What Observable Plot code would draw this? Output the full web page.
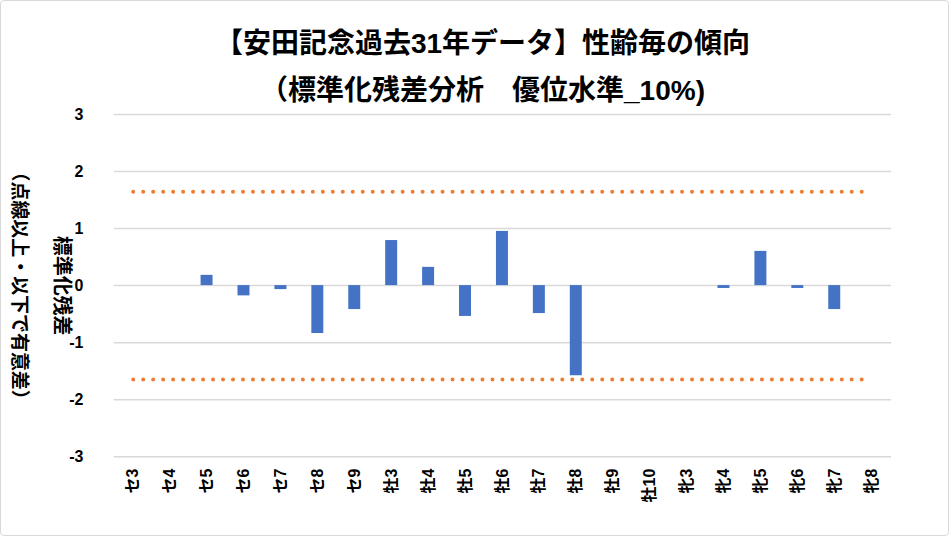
<!DOCTYPE html>
<html><head><meta charset="utf-8">
<script src="https://cdn.jsdelivr.net/npm/d3@7"></script>
<script src="https://cdn.jsdelivr.net/npm/@observablehq/plot@0.6"></script>
<style>
html,body{margin:0;padding:0;background:#fff;}
#wrap{position:relative;width:949px;height:536px;box-sizing:border-box;border:1px solid #d9d9d9;border-radius:4px;overflow:hidden;font-family:"Liberation Sans","Noto Sans CJK JP",sans-serif;}
#t1,#t2{position:absolute;left:16px;right:0;text-align:center;font-weight:bold;color:#000;font-family:"Liberation Sans","Noto Sans CJK JP",sans-serif;white-space:pre;}
#t1{top:23px;font-size:28px;line-height:40px;}
#t2{top:70px;font-size:28px;line-height:40px;}
#chart{position:absolute;left:0;top:99px;}
</style></head>
<body><div id="wrap"><div id="t1"></div><div id="t2"></div><div id="chart"></div></div>
<script>
const title1 = "【安田記念過去31年データ】性齢毎の傾向";
const title2 = "（標準化残差分析　優位水準_10%)";
const yLabel1 = "標準化残差";
const yLabel2 = "（点線以上・以下で有意差）";
const categories = ["セ3","セ4","セ5","セ6","セ7","セ8","セ9","牡3","牡4","牡5","牡6","牡7","牡8","牡9","牡10","牝3","牝4","牝5","牝6","牝7","牝8"];
const residuals = [0,0,0.18,-0.18,-0.07,-0.84,-0.42,0.79,0.32,-0.54,0.95,-0.49,-1.58,0,0,0,-0.05,0.6,-0.05,-0.42,0];
const threshold = 1.645;
const yTicks = [-3,-2,-1,0,1,2,3];

document.getElementById("t1").textContent = title1;
document.getElementById("t2").textContent = title2;

const data = categories.map((c,i)=>({cat:c, v:residuals[i]}));
const font = '"Liberation Sans","Noto Sans CJK JP",sans-serif';

const chart = Plot.plot({
  width: 949,
  height: 437,
  marginTop: 14,
  marginBottom: 80,
  marginLeft: 113,
  marginRight: 57,
  style: {fontFamily: font, fontWeight: "bold", color: "#000", background: "transparent", overflow: "visible"},
  x: {type: "band", domain: categories, paddingInner: 0.67, paddingOuter: 0.335, label: null},
  y: {domain: [-3,3], label: null},
  marks: [
    Plot.gridY(yTicks, {stroke: "#d9d9d9", strokeOpacity: 1, strokeWidth: 1.5}),
    Plot.barY(data, {x: "cat", y: "v", fill: "#4472c4"}),
    Plot.lineY(categories, {x: d=>d, y: ()=>threshold, stroke: "#ed7d31", strokeWidth: 4, strokeDasharray: "0,10", strokeLinecap: "round"}),
    Plot.lineY(categories, {x: d=>d, y: ()=>-threshold, stroke: "#ed7d31", strokeWidth: 4, strokeDasharray: "0,10", strokeLinecap: "round"}),
    Plot.axisY(yTicks, {tickSize: 0, tickPadding: 31, fontSize: 16, fontWeight: "bold", tickFormat: d=>String(d), label: null}),
    Plot.axisX(categories, {tickSize: 0, tickPadding: 12, tickRotate: -90, fontSize: 16, fontWeight: "bold", label: null}),
    Plot.text([yLabel1], {text: d=>d, frameAnchor: "left", textAnchor: "middle", dx: -53, rotate: 90, fontSize: 20, fontWeight: "bold", fill: "#000"}),
    Plot.text([yLabel2], {text: d=>d, frameAnchor: "left", textAnchor: "middle", dx: -95, rotate: 90, fontSize: 19, fontWeight: "bold", fill: "#000"})
  ]
});
document.getElementById("chart").appendChild(chart);
</script></body></html>
